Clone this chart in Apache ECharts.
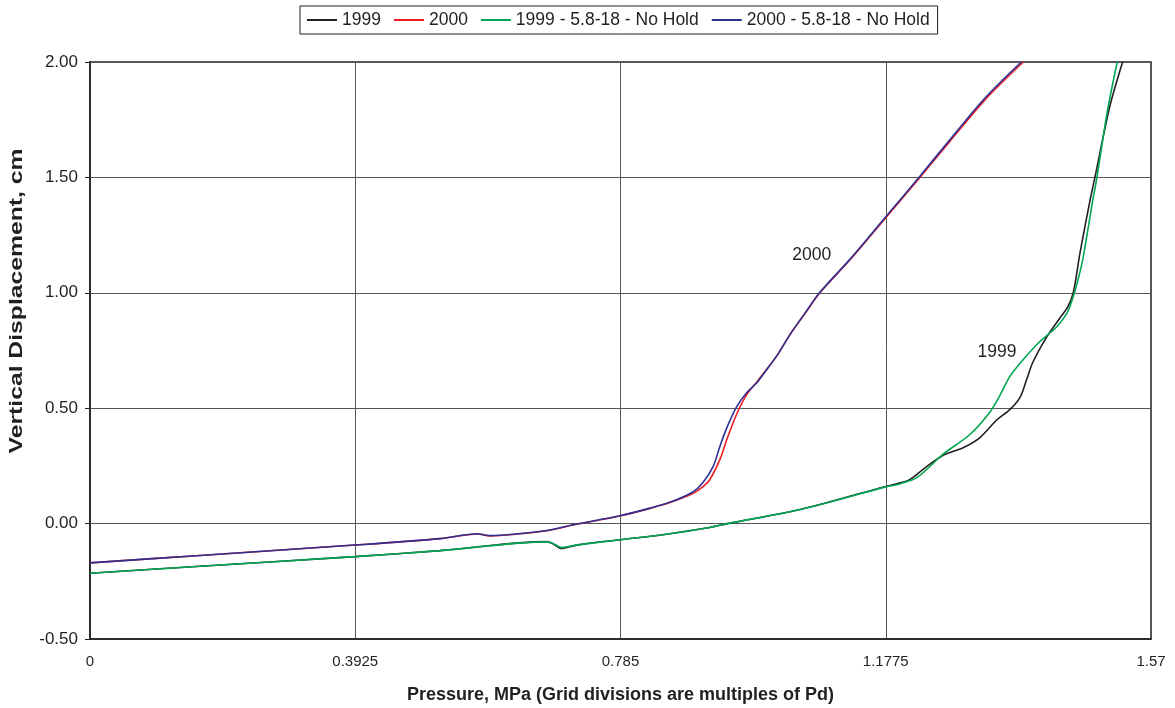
<!DOCTYPE html>
<html>
<head>
<meta charset="utf-8">
<script src="https://cdn.jsdelivr.net/npm/echarts@6/dist/echarts.min.js"></script>
<style>html,body{margin:0;padding:0;background:#fff}#c{width:1175px;height:708px}</style>
</head>
<body>
<div id="c"></div>
<script>
var seriesNames = ['1999', '2000', '1999 - 5.8-18 - No Hold', '2000 - 5.8-18 - No Hold'];
var xTickLabels = ['0', '0.3925', '0.785', '1.1775', '1.57'];
var yAxisTitle = 'Vertical Displacement, cm';
var xAxisTitle = 'Pressure, MPa (Grid divisions are multiples of Pd)';

var s1999 = [
  [0, -0.215], [0.163, -0.185], [0.392, -0.143], [0.518, -0.117], [0.676, -0.078],
  [0.685, -0.087], [0.698, -0.108], [0.710, -0.100], [0.725, -0.091], [0.784, -0.070],
  [0.850, -0.047], [0.917, -0.017], [0.943, 0.000], [1.051, 0.061], [1.176, 0.160],
  [1.209, 0.185], [1.218, 0.200], [1.238, 0.247], [1.262, 0.295], [1.292, 0.329],
  [1.317, 0.373], [1.342, 0.450], [1.361, 0.494], [1.376, 0.546], [1.386, 0.624],
  [1.395, 0.698], [1.416, 0.810], [1.435, 0.890], [1.447, 0.940], [1.455, 1.000],
  [1.465, 1.174], [1.480, 1.404], [1.487, 1.500], [1.509, 1.807], [1.528, 2.000]
];
var s2000 = [
  [0, -0.170], [0.163, -0.138], [0.392, -0.093], [0.518, -0.065], [0.573, -0.045],
  [0.592, -0.053], [0.676, -0.031], [0.715, -0.006], [0.784, 0.033], [0.829, 0.066],
  [0.858, 0.091], [0.892, 0.130], [0.907, 0.160], [0.917, 0.190], [0.932, 0.277],
  [0.943, 0.370], [0.957, 0.475], [0.972, 0.560], [0.987, 0.615], [0.999, 0.660],
  [1.017, 0.730], [1.036, 0.820], [1.058, 0.910], [1.080, 1.000], [1.125, 1.144],
  [1.176, 1.320], [1.228, 1.500], [1.272, 1.655], [1.324, 1.835], [1.381, 2.000]
];
var s1999nh = [
  [0, -0.215], [0.163, -0.185], [0.392, -0.143], [0.518, -0.117], [0.676, -0.079],
  [0.685, -0.086], [0.698, -0.104], [0.710, -0.098], [0.725, -0.091], [0.784, -0.070],
  [0.850, -0.047], [0.917, -0.017], [0.943, 0.000], [1.051, 0.061], [1.176, 0.158],
  [1.199, 0.173], [1.224, 0.200], [1.262, 0.300], [1.302, 0.386], [1.332, 0.485],
  [1.347, 0.559], [1.361, 0.637], [1.381, 0.711], [1.406, 0.790], [1.431, 0.854],
  [1.446, 0.914], [1.455, 0.984], [1.462, 1.057], [1.469, 1.144], [1.484, 1.404],
  [1.490, 1.500], [1.505, 1.780], [1.520, 2.000]
];
var s2000nh = [
  [0, -0.170], [0.163, -0.138], [0.392, -0.093], [0.518, -0.065], [0.573, -0.044],
  [0.592, -0.052], [0.676, -0.030], [0.715, -0.005], [0.784, 0.034], [0.829, 0.067],
  [0.858, 0.092], [0.892, 0.137], [0.907, 0.178], [0.922, 0.247], [0.932, 0.334],
  [0.943, 0.420], [0.957, 0.507], [0.972, 0.568], [0.987, 0.611], [0.999, 0.658],
  [1.017, 0.730], [1.036, 0.820], [1.058, 0.912], [1.080, 1.002], [1.125, 1.147],
  [1.176, 1.324], [1.228, 1.505], [1.272, 1.662], [1.324, 1.843], [1.378, 2.000]
];
var annotations = [
  {name: '2000', value: [1.068, 1.165]},
  {name: '1999', value: [1.342, 0.741]}
];
var colors = ['#231f20', '#ed1c24', '#00a651', '#2e3192'];

var chart = echarts.init(document.getElementById('c'));
function lineSeries(name, data, color, z) {
  return {
    name: name, type: 'line', data: data, showSymbol: false, symbol: 'none',
    smooth: 0.3, z: z,
    lineStyle: {color: color, width: 1.6}, itemStyle: {color: color}
  };
}
chart.setOption({
  animation: false,
  backgroundColor: '#fff',
  textStyle: {fontFamily: 'Liberation Sans, Arial, sans-serif'},
  legend: {
    left: 300, top: 6, width: 680,
    data: seriesNames,
    borderColor: '#231f20', borderWidth: 1,
    padding: [5, 8, 5, 7],
    itemGap: 13, itemWidth: 30, itemHeight: 2,
    textStyle: {fontSize: 17.5, color: '#231f20'},
    icon: 'rect'
  },
  grid: {left: 90, right: 24, top: 62, bottom: 69, show: true, borderColor: '#231f20', borderWidth: 1.5, outerBoundsMode: 'none', containLabel: false},
  xAxis: {
    type: 'value', min: 0, max: 1.57, interval: 0.3925,
    name: xAxisTitle,
    nameLocation: 'middle', nameGap: 47,
    nameTextStyle: {fontWeight: 'bold', fontSize: 18, color: '#231f20'},
    axisLine: {onZero: false, lineStyle: {color: '#231f20', width: 1.5}},
    axisTick: {show: false},
    axisLabel: {
      margin: 15, fontSize: 15, color: '#231f20',
      formatter: function (v) { return xTickLabels[Math.round(v / 0.3925)]; }
    },
    splitLine: {lineStyle: {color: '#555', width: 1}}
  },
  yAxis: {
    type: 'value', min: -0.5, max: 2, interval: 0.5,
    axisLine: {show: true, lineStyle: {color: '#231f20', width: 1.5}},
    axisTick: {show: true, length: 5, lineStyle: {color: '#231f20'}},
    axisLabel: {margin: 12, fontSize: 17, color: '#231f20', formatter: function (v) { return v.toFixed(2); }},
    splitLine: {lineStyle: {color: '#555', width: 1}}
  },
  graphic: [{
    type: 'text', x: 17, y: 301, rotation: Math.PI / 2, scaleX: 1.3, scaleY: 1,
    style: {text: yAxisTitle, font: 'bold 19px "Liberation Sans", Arial, sans-serif', fill: '#231f20', align: 'center', verticalAlign: 'middle'}
  }],
  series: [
    lineSeries(seriesNames[0], s1999, colors[0], 3),
    lineSeries(seriesNames[1], s2000, colors[1], 3),
    lineSeries(seriesNames[2], s1999nh, colors[2], 4),
    lineSeries(seriesNames[3], s2000nh, colors[3], 4),
    {
      type: 'scatter', data: annotations, symbolSize: 0, silent: true, z: 5,
      itemStyle: {opacity: 1},
      label: {show: true, position: 'inside', formatter: '{b}', fontSize: 17.5, color: '#231f20', opacity: 1}
    }
  ]
});
</script>
</body>
</html>
